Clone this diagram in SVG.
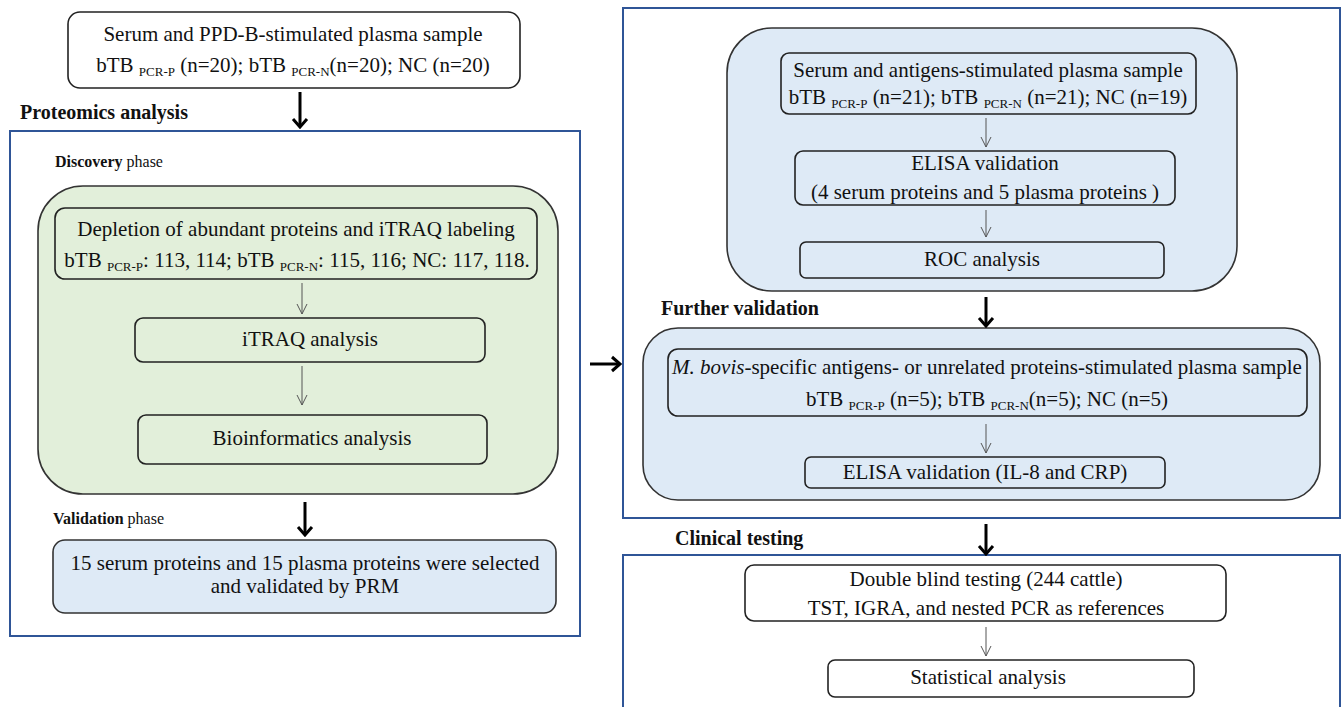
<svg xmlns="http://www.w3.org/2000/svg" width="1344" height="707" viewBox="0 0 1344 707">
<defs>
<style>
text{font-family:"Liberation Serif","Times New Roman",serif;fill:#111;}
.t{font-size:21px;text-anchor:middle;}
.sub{font-size:13px;}
.h{font-size:20px;font-weight:bold;}
.ph{font-size:16px;}
.panel{fill:#fff;stroke:#2f5597;stroke-width:2;}
.box{fill:none;stroke:#222;stroke-width:1.6;}
.wbox{fill:#fff;stroke:#222;stroke-width:1.6;}
.green{fill:#e2efda;stroke:#333;stroke-width:1.6;}
.blue{fill:#deeaf6;stroke:#333;stroke-width:1.6;}
.thick{stroke:#000;stroke-width:3;fill:none;marker-end:url(#mk);}
.thin{stroke:#555;stroke-width:1;fill:none;marker-end:url(#mt);}
</style>
<marker id="mk" viewBox="-12 -10 14 20" markerWidth="14" markerHeight="20" refX="0" refY="0" orient="auto" markerUnits="userSpaceOnUse">
<path d="M-8,-7 L0,0 L-8,7" fill="none" stroke="#000" stroke-width="3"/>
</marker>
<marker id="mt" viewBox="-12 -7 13 14" markerWidth="13" markerHeight="14" refX="0" refY="0" orient="auto" markerUnits="userSpaceOnUse">
<path d="M-10,-5 L0,0 L-10,5" fill="none" stroke="#555" stroke-width="1"/>
</marker>
</defs>
<rect width="1344" height="707" fill="#fff"/>

<g id="panels">
<rect class="panel" x="10" y="131" width="570" height="505"/>
<rect class="panel" x="623" y="8" width="717" height="510"/>
<path class="panel" d="M623,720 L623,555 L1340,555 L1340,720"/>
</g>

<g id="labels">
<text class="h" x="20" y="119">Proteomics analysis</text>
<text class="ph" x="55" y="167"><tspan font-weight="bold">Discovery</tspan> phase</text>
<text class="ph" x="53" y="524"><tspan font-weight="bold">Validation</tspan> phase</text>
<text class="h" x="661" y="315">Further validation</text>
<text class="h" x="675" y="545">Clinical testing</text>
</g>

<g id="node-top">
<rect class="wbox" x="68" y="12" width="452" height="76" rx="12"/>
<text class="t" x="293" y="41">Serum and PPD-B-stimulated plasma sample</text>
<text class="t" x="293" y="72">bTB <tspan class="sub" dy="4">PCR-P</tspan><tspan dy="-4"> (n=20); bTB </tspan><tspan class="sub" dy="4">PCR-N</tspan><tspan dy="-4">(n=20); NC (n=20)</tspan></text>
</g>

<g id="group-discovery">
<rect class="green" x="38" y="186" width="520" height="308" rx="45"/>
</g>
<g id="node-depletion">
<rect class="box" x="55" y="208" width="482" height="71" rx="10"/>
<text class="t" x="296" y="236">Depletion of abundant proteins and iTRAQ labeling</text>
<text class="t" x="297" y="267">bTB <tspan class="sub" dy="4">PCR-P</tspan><tspan dy="-4">: 113, 114; bTB </tspan><tspan class="sub" dy="4">PCR-N</tspan><tspan dy="-4">: 115, 116; NC: 117, 118.</tspan></text>
</g>
<g id="node-itraq">
<rect class="box" x="135" y="318" width="350" height="44" rx="8"/>
<text class="t" x="310" y="346">iTRAQ analysis</text>
</g>
<g id="node-bioinf">
<rect class="box" x="138" y="415" width="349" height="49" rx="8"/>
<text class="t" x="312" y="445">Bioinformatics analysis</text>
</g>
<g id="node-prm">
<rect class="blue" x="53" y="540" width="503" height="73" rx="12"/>
<text class="t" x="305" y="570">15 serum proteins and 15 plasma proteins were selected</text>
<text class="t" x="305" y="593">and validated by PRM</text>
</g>

<g id="group-elisa">
<rect class="blue" x="727" y="28" width="510" height="263" rx="45"/>
</g>
<g id="node-antigens">
<rect class="box" x="781" y="53" width="415" height="61" rx="8"/>
<text class="t" x="988" y="77">Serum and antigens-stimulated plasma sample</text>
<text class="t" x="988" y="104">bTB <tspan class="sub" dy="4">PCR-P</tspan><tspan dy="-4"> (n=21); bTB </tspan><tspan class="sub" dy="4">PCR-N</tspan><tspan dy="-4"> (n=21); NC (n=19)</tspan></text>
</g>
<g id="node-elisa">
<rect class="box" x="795" y="151" width="380" height="54" rx="8"/>
<text class="t" x="985" y="170">ELISA validation</text>
<text class="t" x="985" y="199">(4 serum proteins and 5 plasma proteins )</text>
</g>
<g id="node-roc">
<rect class="box" x="800" y="242" width="364" height="36" rx="6"/>
<text class="t" x="982" y="266">ROC analysis</text>
</g>

<g id="group-further">
<rect class="blue" x="643" y="328" width="677" height="172" rx="35"/>
</g>
<g id="node-mbovis">
<rect class="box" x="668" y="349" width="639" height="67" rx="10"/>
<text class="t" x="987" y="374"><tspan font-style="italic">M. bovis</tspan>-specific antigens- or unrelated proteins-stimulated plasma sample</text>
<text class="t" x="987" y="406">bTB <tspan class="sub" dy="4">PCR-P</tspan><tspan dy="-4"> (n=5); bTB </tspan><tspan class="sub" dy="4">PCR-N</tspan><tspan dy="-4">(n=5); NC (n=5)</tspan></text>
</g>
<g id="node-il8">
<rect class="box" x="805" y="457" width="360" height="31" rx="6"/>
<text class="t" x="985" y="479">ELISA validation (IL-8 and CRP)</text>
</g>

<g id="node-double">
<rect class="wbox" x="745" y="565" width="481" height="56" rx="9"/>
<text class="t" x="986" y="586">Double blind testing (244 cattle)</text>
<text class="t" x="986" y="615">TST, IGRA, and nested PCR as references</text>
</g>
<g id="node-stat">
<rect class="wbox" x="828" y="660" width="366" height="37" rx="7"/>
<text class="t" x="988" y="684">Statistical analysis</text>
</g>

<g id="connectors">
<line class="thick" x1="300" y1="92" x2="300" y2="127"/>
<line class="thin" x1="302" y1="283" x2="302" y2="314"/>
<line class="thin" x1="302" y1="366" x2="302" y2="405"/>
<line class="thick" x1="305" y1="502" x2="305" y2="535"/>
<line class="thick" x1="590" y1="364" x2="620" y2="364"/>
<line class="thin" x1="986" y1="118" x2="986" y2="147"/>
<line class="thin" x1="986" y1="210" x2="986" y2="237"/>
<line class="thick" x1="986" y1="297" x2="986" y2="326"/>
<line class="thin" x1="986" y1="424" x2="986" y2="453"/>
<line class="thick" x1="986" y1="524" x2="986" y2="554"/>
<line class="thin" x1="986" y1="627" x2="986" y2="656"/>
</g>
</svg>
